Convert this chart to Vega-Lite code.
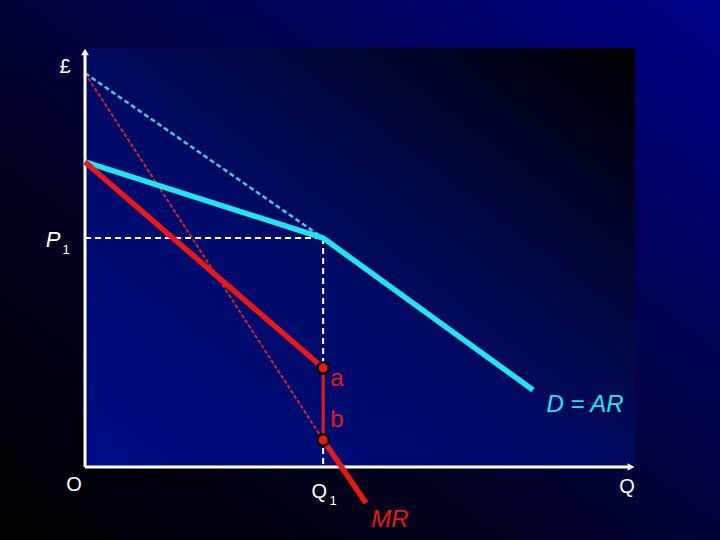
{
  "$schema": "https://vega.github.io/schema/vega-lite/v6.json",
  "width": 720,
  "height": 540,
  "autosize": {"type": "fit", "contains": "padding"},
  "padding": 0,
  "background": "#000000",
  "config": {"view": {"stroke": null}},
  "datasets": {
    "panels": [
      {"panel": "outer", "x": -15.4545, "x2": 115.4545, "y": -17.4224, "y2": 111.4558},
      {"panel": "inner", "x": 0, "x2": 100, "y": 0, "y2": 100}
    ],
    "guides": [
      {"series": "P1", "order": 1, "q": 0, "p": 54.65},
      {"series": "P1", "order": 2, "q": 43.3, "p": 54.65},
      {"series": "Q1", "order": 1, "q": 43.3, "p": 54.65},
      {"series": "Q1", "order": 2, "q": 43.3, "p": 0}
    ],
    "dashedD": [
      {"series": "D0", "order": 1, "q": 0, "p": 94},
      {"series": "D0", "order": 2, "q": 43.3, "p": 54.65}
    ],
    "dashedMR": [
      {"series": "MR0", "order": 1, "q": 0, "p": 94},
      {"series": "MR0", "order": 2, "q": 43.3, "p": 6.44}
    ],
    "axes": [
      {"series": "price", "order": 1, "q": 0, "p": 0},
      {"series": "price", "order": 2, "q": 0, "p": 99},
      {"series": "quantity", "order": 1, "q": 0, "p": 0},
      {"series": "quantity", "order": 2, "q": 99, "p": 0}
    ],
    "arrowUp": [{"q": 0, "p": 99.05}],
    "arrowRight": [{"q": 99.27, "p": 0}],
    "demand": [
      {"series": "D", "order": 1, "q": 0, "p": 72.8},
      {"series": "D", "order": 2, "q": 43.3, "p": 54.65},
      {"series": "D", "order": 3, "q": 81.45, "p": 18.38}
    ],
    "mrSolid": [
      {"series": "MR upper", "order": 1, "q": 0, "p": 72.8},
      {"series": "MR upper", "order": 2, "q": 43.3, "p": 23.63},
      {"series": "MR lower", "order": 1, "q": 43.3, "p": 6.44},
      {"series": "MR lower", "order": 2, "q": 51.09, "p": -8.59}
    ],
    "mrGap": [
      {"series": "gap", "order": 1, "q": 43.3, "p": 23.63},
      {"series": "gap", "order": 2, "q": 43.3, "p": 6.44}
    ],
    "points": [
      {"label": "a", "q": 43.3, "p": 23.63},
      {"label": "b", "q": 43.3, "p": 6.44}
    ],
    "whiteLabels": [
      {"text": "£", "q": -3.64, "p": 95.47},
      {"text": "O", "q": -2.0, "p": -4.3},
      {"text": "Q", "q": 98.55, "p": -4.77},
      {"text": "Q", "q": 42.6, "p": -5.97}
    ],
    "whiteItalic": [
      {"text": "P", "q": -5.8, "p": 54.18}
    ],
    "subscripts": [
      {"text": "1", "q": -3.45, "p": 51.9},
      {"text": "1", "q": 45.1, "p": -8.0}
    ],
    "redLabels": [
      {"text": "a", "q": 45.82, "p": 21.0},
      {"text": "b", "q": 45.82, "p": 11.22}
    ],
    "redItalic": [
      {"text": "MR", "q": 55.45, "p": -12.65}
    ],
    "cyanItalic": [
      {"text": "D = AR", "q": 90.91, "p": 14.8}
    ]
  },
  "encoding": {
    "x": {"field": "q", "type": "quantitative", "scale": {"domain": [-15.4545, 115.4545], "nice": false, "zero": false}, "axis": null},
    "y": {"field": "p", "type": "quantitative", "scale": {"domain": [-17.4224, 111.4558], "nice": false, "zero": false}, "axis": null}
  },
  "layer": [
    {
      "data": {"name": "panels"},
      "transform": [{"filter": "datum.panel === 'outer'"}],
      "mark": {"type": "rect", "fill": {"gradient": "linear", "x1": 0, "y1": 1, "x2": 1, "y2": 0, "stops": [{"offset": 0, "color": "#000000"}, {"offset": 0.35, "color": "#020220"}, {"offset": 1, "color": "#000088"}]}},
      "encoding": {
        "x": {"field": "x", "type": "quantitative"},
        "x2": {"field": "x2"},
        "y": {"field": "y", "type": "quantitative"},
        "y2": {"field": "y2"}
      }
    },
    {
      "data": {"name": "panels"},
      "transform": [{"filter": "datum.panel === 'inner'"}],
      "mark": {"type": "rect", "fill": {"gradient": "linear", "x1": 0, "y1": 1, "x2": 1, "y2": 0, "stops": [{"offset": 0, "color": "#000c84"}, {"offset": 0.45, "color": "#000a66"}, {"offset": 1, "color": "#000000"}]}},
      "encoding": {
        "x": {"field": "x", "type": "quantitative"},
        "x2": {"field": "x2"},
        "y": {"field": "y", "type": "quantitative"},
        "y2": {"field": "y2"}
      }
    },
    {
      "data": {"name": "guides"},
      "mark": {"type": "line", "color": "#ffffff", "strokeWidth": 2, "strokeDash": [6, 4]},
      "encoding": {"detail": {"field": "series"}, "order": {"field": "order"}}
    },
    {
      "data": {"name": "dashedD"},
      "mark": {"type": "line", "color": "#3fc8e0", "strokeWidth": 2.5, "strokeDash": [5, 3]},
      "encoding": {"detail": {"field": "series"}, "order": {"field": "order"}}
    },
    {
      "data": {"name": "dashedMR"},
      "mark": {"type": "line", "color": "#c8282c", "strokeWidth": 2, "strokeDash": [4, 2]},
      "encoding": {"detail": {"field": "series"}, "order": {"field": "order"}}
    },
    {
      "data": {"name": "axes"},
      "mark": {"type": "line", "color": "#ffffff", "strokeWidth": 3},
      "encoding": {"detail": {"field": "series"}, "order": {"field": "order"}}
    },
    {
      "data": {"name": "arrowUp"},
      "mark": {"type": "point", "shape": "triangle-up", "filled": true, "color": "#ffffff", "size": 60, "opacity": 1}
    },
    {
      "data": {"name": "arrowRight"},
      "mark": {"type": "point", "shape": "triangle-right", "filled": true, "color": "#ffffff", "size": 60, "opacity": 1}
    },
    {
      "data": {"name": "demand"},
      "mark": {"type": "line", "color": "#22e4f0", "strokeWidth": 5.5},
      "encoding": {"detail": {"field": "series"}, "order": {"field": "order"}}
    },
    {
      "data": {"name": "mrSolid"},
      "mark": {"type": "line", "color": "#e81818", "strokeWidth": 5.5},
      "encoding": {"detail": {"field": "series"}, "order": {"field": "order"}}
    },
    {
      "data": {"name": "mrGap"},
      "mark": {"type": "line", "color": "#e81818", "strokeWidth": 3},
      "encoding": {"detail": {"field": "series"}, "order": {"field": "order"}}
    },
    {
      "data": {"name": "points"},
      "mark": {"type": "point", "shape": "circle", "filled": true, "fill": "#e81818", "stroke": "#000000", "strokeWidth": 2.5, "size": 130, "opacity": 1}
    },
    {
      "data": {"name": "whiteLabels"},
      "mark": {"type": "text", "color": "#ffffff", "font": "Liberation Sans", "fontSize": 20, "align": "center", "baseline": "middle"},
      "encoding": {"text": {"field": "text"}}
    },
    {
      "data": {"name": "whiteItalic"},
      "mark": {"type": "text", "color": "#ffffff", "font": "Liberation Sans", "fontStyle": "italic", "fontSize": 22, "align": "center", "baseline": "middle"},
      "encoding": {"text": {"field": "text"}}
    },
    {
      "data": {"name": "subscripts"},
      "mark": {"type": "text", "color": "#ffffff", "font": "Liberation Sans", "fontSize": 13, "align": "center", "baseline": "middle"},
      "encoding": {"text": {"field": "text"}}
    },
    {
      "data": {"name": "redLabels"},
      "mark": {"type": "text", "color": "#e81818", "font": "Liberation Sans", "fontSize": 24, "align": "center", "baseline": "middle"},
      "encoding": {"text": {"field": "text"}}
    },
    {
      "data": {"name": "redItalic"},
      "mark": {"type": "text", "color": "#e81818", "font": "Liberation Sans", "fontStyle": "italic", "fontSize": 24, "align": "center", "baseline": "middle"},
      "encoding": {"text": {"field": "text"}}
    },
    {
      "data": {"name": "cyanItalic"},
      "mark": {"type": "text", "color": "#22e4f0", "font": "Liberation Sans", "fontStyle": "italic", "fontSize": 24, "align": "center", "baseline": "middle"},
      "encoding": {"text": {"field": "text"}}
    }
  ]
}
